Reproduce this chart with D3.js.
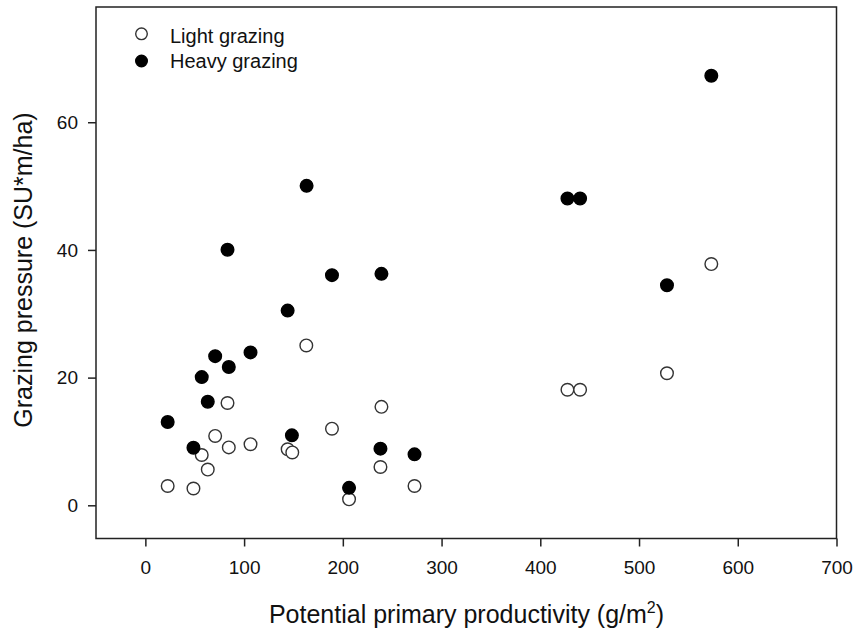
<!DOCTYPE html>
<html><head><meta charset="utf-8">
<script src="https://cdn.jsdelivr.net/npm/d3@7"></script>
<style>
body{margin:0;background:#fff;}
svg text{font-family:"Liberation Sans",Arial,sans-serif;fill:#111;}
</style></head>
<body><svg id="c" width="857" height="630"></svg>
<script>
const lightX = [22.6,48.7,57.1,63.2,70.7,83.2,84.5,106.5,144.1,148.8,163,189,206.3,238.1,239.1,272.6,427.5,440.3,528.3,573.2];
const lightY = [3.02,2.63,7.88,5.6,10.86,16.02,9.07,9.57,8.78,8.28,25.04,12.0,0.94,6.0,15.42,3.02,18.1,18.1,20.68,37.79];
const heavyX = [22.6,48.7,57.1,63.2,70.7,83.2,84.5,106.5,144.1,148.4,163.3,189,206.3,238.1,239.1,272.6,427.5,440.3,528.3,573.2];
const heavyY = [13.04,9.02,20.08,16.21,23.36,40.02,21.67,23.95,30.5,10.96,50.04,36.05,2.73,8.87,36.25,7.98,48.05,48.05,34.47,67.29];
const xTicks = [0,100,200,300,400,500,600,700];
const yTicks = [0,20,40,60];
const seriesNames = ["Light grazing","Heavy grazing"];

const svg = d3.select("#c");
const L=96, R=836.5, T=7, B=538.5;
const x = d3.scaleLinear().domain([-50,700]).range([L,R]);
const y = d3.scaleLinear().domain([-5.2,78.05]).range([B,T]);

const ink="#222";
svg.append("rect").attr("x",L).attr("y",T).attr("width",R-L).attr("height",B-T)
  .attr("fill","none").attr("stroke",ink).attr("stroke-width",1.5);

const xa = svg.append("g").attr("transform",`translate(0,${B})`)
  .call(d3.axisBottom(x).tickValues(xTicks).tickSize(8).tickPadding(14).tickFormat(d3.format("d")));
const ya = svg.append("g").attr("transform",`translate(${L},0)`)
  .call(d3.axisLeft(y).tickValues(yTicks).tickSize(8).tickPadding(10).tickFormat(d3.format("d")));
[xa,ya].forEach(a=>{
  a.select(".domain").remove();
  a.selectAll("line").attr("stroke",ink).attr("stroke-width",1.5);
  a.selectAll("text").style("font-size","19px").attr("fill","#111");
});
xa.selectAll("text").attr("dy","0.72em");

svg.append("text").attr("x",466.5).attr("y",623).attr("text-anchor","middle")
  .style("font-size","25px")
  .html('Potential primary productivity (g/m<tspan dy="-10" style="font-size:16px">2</tspan><tspan dy="10">)</tspan>');
svg.append("text").attr("transform",`translate(32,270) rotate(-90)`).attr("text-anchor","middle")
  .style("font-size","25px").text("Grazing pressure (SU*m/ha)");

const r=6.3;
function plot(xs,ys,filled){
  svg.append("g").selectAll("circle").data(xs.map((v,i)=>[v,ys[i]])).join("circle")
    .attr("cx",d=>x(d[0])).attr("cy",d=>y(d[1])).attr("r",r)
    .attr("fill",filled?"#000":"#fff").attr("stroke",filled?"#000":"#333").attr("stroke-width",1.4);
}
plot(lightX,lightY,false);
plot(heavyX,heavyY,true);

const lg = svg.append("g");
seriesNames.forEach((n,i)=>{
  lg.append("circle").attr("cx",141.5).attr("cy",33.8+i*27.2).attr("r",5.8)
    .attr("fill",i?"#000":"#fff").attr("stroke",i?"#000":"#333").attr("stroke-width",1.4);
  lg.append("text").attr("x",170).attr("y",42.5+i*25.8).style("font-size","20px").text(n);
});
</script></body></html>
